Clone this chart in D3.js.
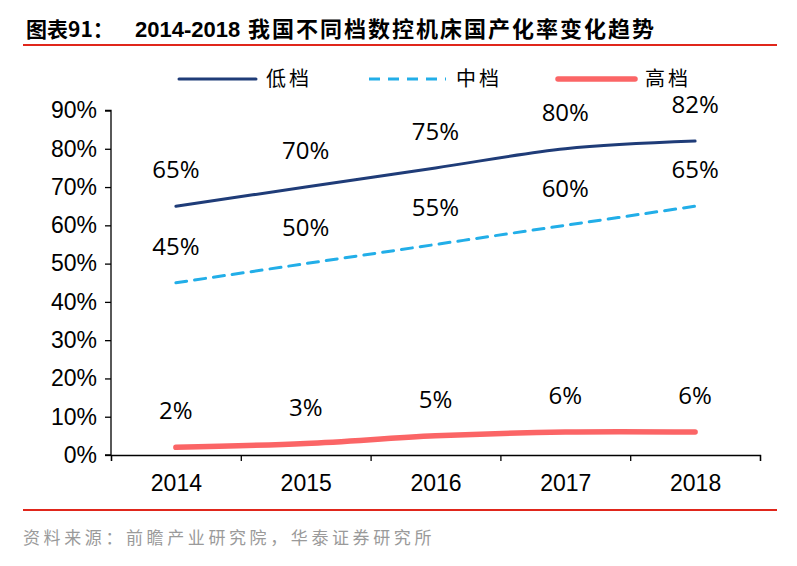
<!DOCTYPE html>
<html>
<head>
<meta charset="utf-8">
<script src="https://cdn.jsdelivr.net/npm/d3@7"></script>
<style>
  body { margin: 0; background: #fff; }
  svg { display: block; }
</style>
</head>
<body>
<div class="main"></div>
<script>
let years = ['2014', '2015', '2016', '2017', '2018']
let lowValues = [0.65, 0.70, 0.75, 0.80, 0.82]
let midValues = [0.45, 0.50, 0.55, 0.60, 0.65]
let highValues = [0.02, 0.03, 0.05, 0.06, 0.06]
let seriesNames = ['低档', '中档', '高档']
let yTicks = [0, 0.1, 0.2, 0.3, 0.4, 0.5, 0.6, 0.7, 0.8, 0.9]

let width = 797, height = 566
let svg = d3.select('.main').append('svg')
  .attr('width', width).attr('height', height)

let plot = {left: 111, right: 760, top: 110.5, bottom: 455}

let xScale = d3.scalePoint()
  .domain(years)
  .range([plot.left, plot.right])
  .padding(0.5)

let yScale = d3.scaleLinear()
  .domain([0, 0.9])
  .range([plot.bottom, plot.top])

let series = [
  {name: seriesNames[0], values: lowValues, color: '#1f3c78', width: 3, dash: null},
  {name: seriesNames[1], values: midValues, color: '#22aee8', width: 3, dash: '11,8'},
  {name: seriesNames[2], values: highValues, color: '#fb6566', width: 5.5, dash: null}
]

// title + rules
svg.append('text')
  .attr('x', 26).attr('y', 37)
  .style('font-family', '"Noto Sans CJK SC", sans-serif')
  .style('font-weight', 'bold')
  .style('font-size', '21px')
  .text('图表91：')
svg.append('text')
  .attr('x', 135).attr('y', 37)
  .style('font-family', '"Liberation Sans", Arial, sans-serif')
  .style('font-weight', 'bold')
  .style('font-size', '22px')
  .text('2014-2018')
svg.append('text')
  .attr('x', 248).attr('y', 37)
  .style('font-family', '"Noto Sans CJK SC", sans-serif')
  .style('font-weight', 'bold')
  .style('font-size', '22px')
  .style('letter-spacing', '2px')
  .text('我国不同档数控机床国产化率变化趋势')

svg.append('line')
  .attr('x1', 23).attr('x2', 777).attr('y1', 45).attr('y2', 45)
  .attr('stroke', '#e0261b').attr('stroke-width', 2)
svg.append('line')
  .attr('x1', 23).attr('x2', 777).attr('y1', 510).attr('y2', 510)
  .attr('stroke', '#e0261b').attr('stroke-width', 2)

svg.append('text')
  .attr('x', 23).attr('y', 544)
  .style('font-family', '"Noto Sans CJK SC", sans-serif')
  .style('font-size', '17px')
  .style('letter-spacing', '3.6px')
  .style('fill', '#9a9a9a')
  .text('资料来源：前瞻产业研究院，华泰证券研究所')

// axes
let yAxis = d3.axisLeft(yScale)
  .tickValues(yTicks)
  .tickSize(6)
  .tickPadding(8)
  .tickFormat(d3.format('.0%'))

svg.append('g')
  .attr('transform', `translate(${plot.left}, 0)`)
  .call(yAxis)
  .call(g => g.selectAll('text')
    .style('font-family', '"Liberation Sans", Arial, sans-serif')
    .style('font-size', '23px')
    .style('fill', '#000'))
  .call(g => g.selectAll('line, path').attr('stroke', '#000').attr('stroke-width', 1.3))
  .call(g => g.select('.domain').attr('d', `M-6,${plot.bottom}H0V${plot.top}H-6`))

let edgeScale = d3.scaleLinear().domain([0, years.length]).range([plot.left, plot.right])
svg.append('g')
  .attr('transform', `translate(0, ${plot.bottom})`)
  .call(d3.axisBottom(edgeScale).tickValues(d3.range(years.length + 1)).tickSize(6).tickFormat(''))
  .call(g => g.selectAll('line, path').attr('stroke', '#000').attr('stroke-width', 1.3))

svg.append('g')
  .attr('transform', `translate(0, ${plot.bottom})`)
  .call(d3.axisBottom(xScale).tickSize(0).tickPadding(20))
  .call(g => g.select('.domain').remove())
  .call(g => g.selectAll('text')
    .style('font-family', '"Liberation Sans", Arial, sans-serif')
    .style('font-size', '23px')
    .style('fill', '#000'))

// lines
let line = d3.line()
  .x((d, i) => xScale(years[i]))
  .y(d => yScale(d))
  .curve(d3.curveCatmullRom.alpha(0.5))

series.forEach(s => {
  svg.append('path')
    .datum(s.values)
    .attr('d', line)
    .attr('fill', 'none')
    .attr('stroke', s.color)
    .attr('stroke-width', s.width)
    .attr('stroke-dasharray', s.dash)
    .attr('stroke-linecap', 'round')

  svg.append('g').selectAll('text').data(s.values).enter().append('text')
    .attr('x', (d, i) => xScale(years[i]))
    .attr('y', d => yScale(d) - 28)
    .attr('text-anchor', 'middle')
    .style('font-family', '"Open Sans", sans-serif')
    .style('font-size', '24px')
    .style('fill', '#000')
    .text(d => d3.format('.0%')(d))
})

// legend
let legendX = [179, 369, 558]
series.forEach((s, i) => {
  let g = svg.append('g').attr('transform', `translate(${legendX[i]}, 79)`)
  g.append('line')
    .attr('x1', 0).attr('x2', 77).attr('y1', 0).attr('y2', 0)
    .attr('stroke', s.color)
    .attr('stroke-width', s.width)
    .attr('stroke-dasharray', s.dash)
    .attr('stroke-linecap', s.dash ? 'butt' : 'round')
  g.append('text')
    .attr('x', 87).attr('y', 7)
    .style('font-family', '"Noto Sans CJK SC", sans-serif')
    .style('font-size', '20px')
    .style('letter-spacing', '3px')
    .style('fill', '#000')
    .text(s.name)
})
</script>
</body>
</html>
